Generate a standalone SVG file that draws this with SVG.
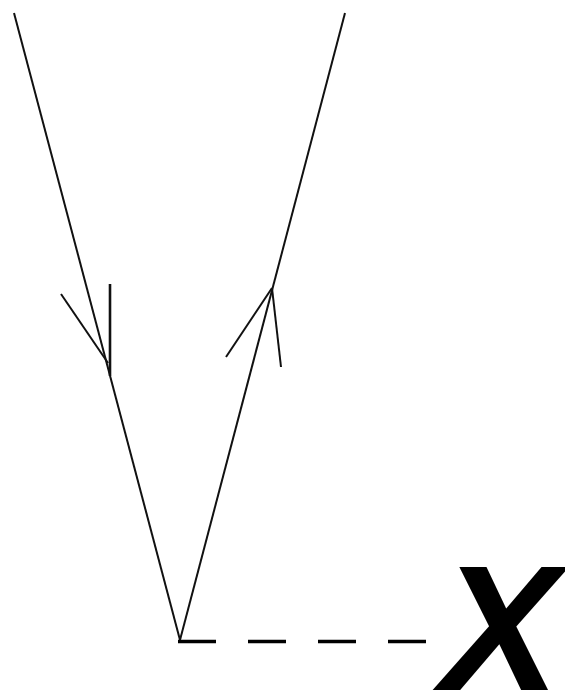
<svg xmlns="http://www.w3.org/2000/svg" width="565" height="690" viewBox="0 0 565 690">
<style>
.ray{stroke:#111;stroke-width:2;fill:none;stroke-linecap:butt}
.dash{stroke:#000;stroke-width:3.3;fill:none;stroke-dasharray:38 32}
.lbl{font-family:"Liberation Sans",Arial,sans-serif;font-style:italic;font-weight:bold;font-size:180px;fill:#000}
</style>
<rect width="565" height="690" fill="#fff"/>
<g id="connectors">
<line class="ray" x1="14" y1="13" x2="180" y2="640"/>
<line class="ray" x1="345" y1="13" x2="180" y2="640"/>
<line class="ray" x1="61" y1="294" x2="108" y2="363"/>
<line class="ray" x1="110" y1="284" x2="110" y2="376" style="stroke-width:2.6"/>
<line class="ray" x1="272" y1="288" x2="226" y2="357"/>
<line class="ray" x1="272" y1="288" x2="281" y2="367"/>
<line class="dash" x1="178" y1="641.5" x2="426" y2="641.5"/>
</g>
<g id="point-x">
<text class="lbl" x="500" y="691" text-anchor="middle">X</text>
</g>
</svg>
